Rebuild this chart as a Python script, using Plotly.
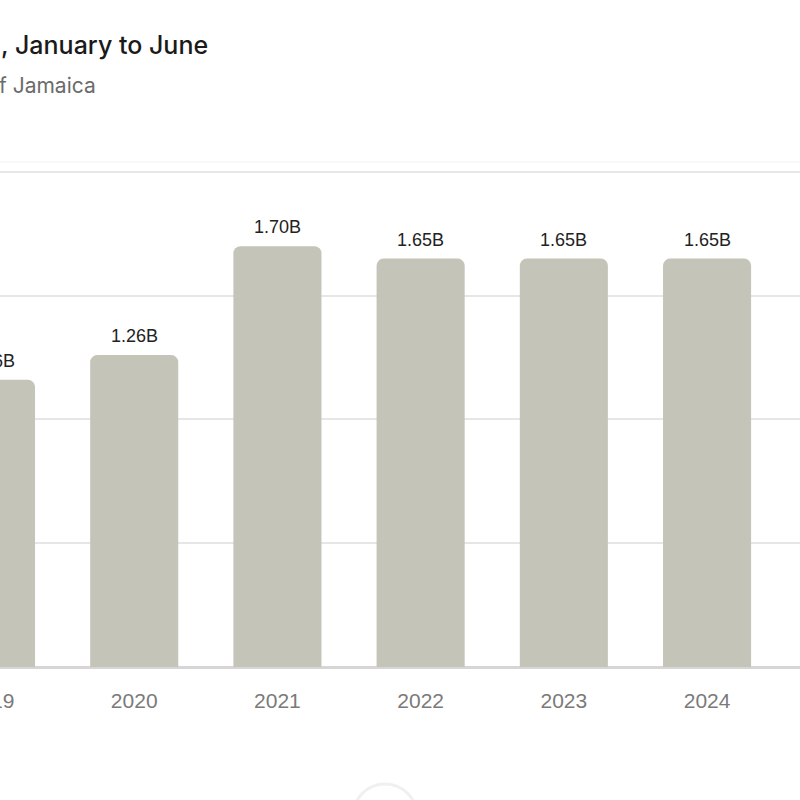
import plotly.graph_objects as go

# values (billions, Jan-Jun)
years = ["2019", "2020", "2021", "2022", "2023", "2024"]
values_b = [1.16, 1.26, 1.70, 1.65, 1.65, 1.65]
labels = ["1.16B", "1.26B", "1.70B", "1.65B", "1.65B", "1.65B"]
y_ticks = [0, 0.5, 1.0, 1.5, 2.0]

# the reference is a crop: the figure is a bit wider than the window and
# pushed left so the 2019 column is cut at the page edge
CUT = 40

fig = go.Figure()
fig.add_trace(go.Bar(
    x=years,
    y=values_b,
    marker=dict(color="#c4c4b8", cornerradius=7, line=dict(width=0)),
    width=0.615,
    hoverinfo="skip",
))

# value labels above bars (category index as x, "2019" strings get read as numbers)
for i, (v, lab) in enumerate(zip(values_b, labels)):
    fig.add_annotation(x=i, y=v, text=lab, showarrow=False,
                       yanchor="middle", yshift=19,
                       font=dict(family="Liberation Sans", size=18, color="#222222"))

# title / subtitle (only the visible part of the original crop)
fig.add_annotation(text=", January to June", xref="paper", yref="paper",
                   x=0, xshift=CUT - 1, y=1.0, yshift=122,
                   xanchor="left", yanchor="middle", showarrow=False,
                   font=dict(family="Inter", size=25, color="#1a1a1a", weight=500))
fig.add_annotation(text="f Jamaica", xref="paper", yref="paper",
                   x=0, xshift=CUT - 3, y=1.0, yshift=82,
                   xanchor="left", yanchor="middle", showarrow=False,
                   font=dict(family="Inter", size=21, color="#6b6b6b"))

# faint separator above the chart
fig.add_shape(type="line", xref="paper", yref="paper", x0=0, x1=1,
              ysizemode="pixel", yanchor=1, y0=5, y1=5,
              line=dict(color="#f2f2f2", width=1))

# faint round button at the bottom edge
fig.add_shape(type="circle", xref="paper", yref="paper",
              xsizemode="pixel", ysizemode="pixel",
              xanchor=(CUT + 385) / (800 + CUT), yanchor=0,
              x0=-32, x1=32, y0=-133 - 48, y1=-133 + 16,
              line=dict(color="#f0f0f0", width=3), fillcolor="white")

fig.update_layout(
    width=800 + CUT, height=800,
    margin=dict(l=0, r=0, t=167, b=133),
    plot_bgcolor="white", paper_bgcolor="white",
    showlegend=False,
    xaxis=dict(
        type="category",
        range=[-0.2165, 5.649],
        showgrid=False,
        showline=False,
        ticks="outside", ticklen=15, tickcolor="rgba(0,0,0,0)",
        tickfont=dict(family="Liberation Sans", size=21, color="#7a7a7a"),
    ),
    yaxis=dict(
        range=[0, 2.02],
        tickvals=y_ticks,
        showticklabels=False,
        gridcolor="#e6e6e6", gridwidth=1.5,
        zeroline=True, zerolinecolor="#d6d6d6", zerolinewidth=2.5,
    ),
)

shift_js = ("document.body.style.margin='0';"
            "document.body.style.overflow='hidden';"
            "document.getElementById('{plot_id}').style.marginLeft='-%dpx';" % CUT)
fig.write_html("out.html", post_script=shift_js, config={"displayModeBar": False})
